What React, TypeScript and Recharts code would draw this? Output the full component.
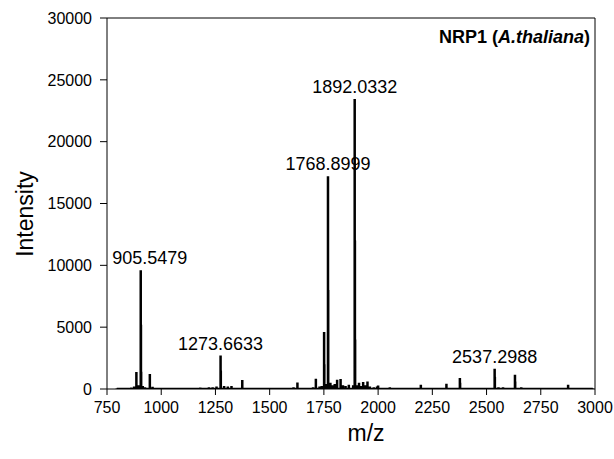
import {
  ComposedChart,
  Line,
  ReferenceLine,
  Scatter,
  XAxis,
  YAxis,
} from 'recharts'

// MALDI spectrum for NRP1 (A. thaliana): stick peaks on an m/z axis,
// with the five main peaks annotated by their m/z value.

const peakMz = [
  885.5, 905.5479, 906.5, 907.5, 947.5, 1273.6633, 1274.7, 1373.7, 1628, 1713,
  1751, 1752, 1768.8999, 1769.9, 1811, 1827, 1892.0332, 1893, 1894, 1912, 1931,
  1951, 2000, 2197, 2315, 2377, 2378, 2537.2988, 2538.3, 2631, 2632, 2781, 2876,
  2953,
]
const peakIntensity = [
  1370, 9600, 5200, 1400, 1210, 2700, 1500, 730, 530, 820, 4600, 2000, 17200,
  8000, 750, 800, 23450, 12000, 4000, 510, 560, 610, 290, 350, 430, 890, 500,
  1640, 1000, 1160, 600, 110, 350, 90,
]

const noiseMz = [
  795, 810, 830, 850, 862, 875, 895, 915, 925, 960, 975, 1001, 1030, 1055, 1070,
  1100, 1135, 1160, 1180, 1200, 1220, 1237, 1255, 1290, 1307, 1324, 1345, 1408,
  1430, 1455, 1490, 1520, 1555, 1580, 1610, 1653, 1680, 1700, 1730, 1740, 1760,
  1780, 1791, 1800, 1838, 1850, 1865, 1885, 1905, 1920, 1940, 1962, 1980, 1995,
  2020, 2054, 2080, 2100, 2140, 2180, 2252, 2280, 2332, 2350, 2408, 2440, 2484,
  2520, 2555, 2576, 2607, 2660, 2690, 2710, 2740, 2775, 2820, 2870, 2910, 2990,
]
const noiseIntensity = [
  40, 60, 50, 80, 120, 200, 300, 250, 150, 180, 100, 80, 50, 60, 70, 60, 50, 80,
  120, 100, 150, 150, 200, 250, 200, 250, 100, 100, 70, 60, 60, 70, 60, 60, 150,
  100, 100, 150, 200, 250, 400, 500, 300, 400, 300, 250, 350, 300, 300, 250, 300,
  200, 150, 200, 100, 150, 70, 60, 60, 60, 50, 50, 100, 80, 50, 60, 50, 100, 150,
  150, 100, 150, 60, 50, 50, 50, 50, 60, 50, 40,
]

const labelledMz = [905.5479, 1273.6633, 1768.8999, 1892.0332, 2537.2988]
const labelledText = ['905.5479', '1273.6633', '1768.8999', '1892.0332', '2537.2988']

const xTicks = [750, 1000, 1250, 1500, 1750, 2000, 2250, 2500, 2750, 3000]
const yTicks = [0, 5000, 10000, 15000, 20000, 25000, 30000]

// stick spectrum: each peak goes baseline -> top -> baseline
const sticks = [
  ...peakMz.map((mz, i) => ({ mz, h: peakIntensity[i] })),
  ...noiseMz.map((mz, i) => ({ mz, h: noiseIntensity[i] })),
].sort((a, b) => a.mz - b.mz)

const spectrum = sticks.flatMap((s) => [
  { mz: s.mz, y: 0 },
  { mz: s.mz, y: s.h },
  { mz: s.mz, y: 0 },
])

const labels = labelledMz.map((mz, i) => ({
  mz,
  y: peakIntensity[peakMz.indexOf(mz)],
  text: labelledText[i],
}))

// the first label sits a little right of its peak so it clears the axis
const labelShift: Record<string, number> = { '905.5479': 9 }

const FONT = '"Liberation Sans", Arial, sans-serif'

function PeakLabel(props: any) {
  const { cx, cy, payload } = props
  if (cx == null || cy == null) return null
  return (
    <text
      x={cx + (labelShift[payload.text] ?? 0)}
      y={cy - 6}
      textAnchor="middle"
      fontFamily={FONT}
      fontSize={18}
      fill="#000"
    >
      {payload.text}
    </text>
  )
}

export default function App() {
  return (
    <div style={{ position: 'absolute', left: 0, top: 0, background: '#fff' }}>
      <ComposedChart
        width={614}
        height={459}
        margin={{ top: 18, right: 19, bottom: 0, left: 0 }}
      >
        <XAxis
          type="number"
          dataKey="mz"
          domain={[750, 3000]}
          ticks={xTicks}
          allowDataOverflow
          height={70}
          tickSize={6}
          tickMargin={7}
          axisLine={{ stroke: '#000' }}
          tickLine={{ stroke: '#000' }}
          tick={{ fill: '#000', fontSize: 16, fontFamily: FONT }}
        />
        <YAxis
          type="number"
          dataKey="y"
          domain={[0, 30000]}
          ticks={yTicks}
          allowDataOverflow
          width={107}
          tickSize={7}
          tickMargin={8}
          axisLine={{ stroke: '#000' }}
          tickLine={{ stroke: '#000' }}
          tick={{ fill: '#000', fontSize: 16, fontFamily: FONT }}
        />
        <ReferenceLine y={30000} stroke="#000" strokeWidth={1} />
        <ReferenceLine x={3000} stroke="#000" strokeWidth={1} />
        <Line
          data={spectrum}
          dataKey="y"
          type="linear"
          stroke="#000"
          strokeWidth={2.5}
          dot={false}
          activeDot={false}
          isAnimationActive={false}
        />
        <Scatter
          data={labels}
          dataKey="y"
          shape={<PeakLabel />}
          isAnimationActive={false}
        />
        <text
          x={590}
          y={43}
          textAnchor="end"
          fontFamily={FONT}
          fontSize={18}
          fontWeight="bold"
          fill="#000"
        >
          NRP1 (<tspan fontStyle="italic">A.thaliana</tspan>)
        </text>
        <text
          x={33}
          y={214}
          transform="rotate(-90 33 214)"
          textAnchor="middle"
          fontFamily={FONT}
          fontSize={23}
          fill="#000"
        >
          Intensity
        </text>
        <text
          x={366}
          y={441}
          textAnchor="middle"
          fontFamily={FONT}
          fontSize={23}
          fill="#000"
        >
          m/z
        </text>
      </ComposedChart>
    </div>
  )
}
